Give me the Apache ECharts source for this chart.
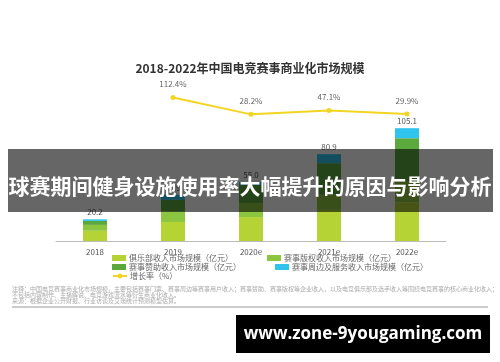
<!DOCTYPE html>
<html>
<head>
<meta charset="utf-8">
<script src="https://cdn.jsdelivr.net/npm/echarts@6/dist/echarts.min.js"></script>
<style>
html,body{margin:0;padding:0;background:#fff;}
#c{width:500px;height:362px;}
</style>
</head>
<body>
<div id="c"></div>
<script>
var categories = ['2018', '2019', '2020e', '2021e', '2022e'];
var clubRevenue = [9.5, 17.7, 22.3, 29.0, 36.0];
var copyrightRevenue = [5.5, 10.0, 13.0, 14.0, 20.0];
var sponsorRevenue = [3.7, 10.6, 16.9, 29.5, 39.8];
var peripheralRevenue = [1.5, 4.6, 2.8, 8.4, 9.3];
var totals = [20.2, 42.9, 55.0, 80.9, 105.1];
var growthRate = ['-', 112.4, 28.2, 47.1, 29.9];

var seriesNames = [
  '俱乐部收入市场规模（亿元）',
  '赛事版权收入市场规模（亿元）',
  '赛事赞助收入市场规模（亿元）',
  '赛事周边及服务收入市场规模（亿元）',
  '增长率（%）'
];
var colors = ['#b5d334', '#8cc640', '#5ba83c', '#2ec4ec', '#f2d523'];
var FONT = '"Noto Sans CJK SC", "Noto Sans", sans-serif';

var chart = echarts.init(document.getElementById('c'), null, {renderer: 'canvas'});

function barSeries(i, data, extra) {
  var s = {
    name: seriesNames[i],
    type: 'bar',
    stack: 'total',
    barWidth: 24,
    data: data,
    itemStyle: {color: colors[i]},
    emphasis: {disabled: true}
  };
  if (extra) { for (var k in extra) s[k] = extra[k]; }
  return s;
}

var legendCommon = {
  itemWidth: 14,
  itemHeight: 6,
  itemGap: 34,
  textStyle: {fontSize: 8, color: '#666', fontFamily: FONT, padding: [0, 0, 0, -2]},
  padding: 0
};

function legend(top, names) {
  var l = {left: 112, top: top, data: names};
  for (var k in legendCommon) l[k] = legendCommon[k];
  return l;
}

var option = {
  backgroundColor: '#ffffff',
  animation: false,
  title: {
    text: '2018-2022年中国电竞赛事商业化市场规模',
    left: 'center',
    top: 57,
    textStyle: {fontSize: 12, fontWeight: 'bold', color: '#333', fontFamily: FONT}
  },
  legend: [
    legend(254, [{name: seriesNames[0], icon: 'rect'}, {name: seriesNames[1], icon: 'rect'}]),
    legend(263, [{name: seriesNames[2], icon: 'rect'}, {name: seriesNames[3], icon: 'rect'}]),
    legend(272, [{name: seriesNames[4]}])
  ],
  grid: {left: 56, right: 54, top: 80, bottom: 121, containLabel: false},
  xAxis: {
    type: 'category',
    data: categories,
    axisLine: {lineStyle: {color: '#bbb', width: 1}},
    axisTick: {show: false},
    axisLabel: {fontSize: 8, color: '#555', margin: 7, fontFamily: FONT}
  },
  yAxis: [
    {type: 'value', min: 0, max: 150, show: false},
    {type: 'value', min: -605, max: 200, show: false}
  ],
  series: [
    barSeries(0, clubRevenue),
    barSeries(1, copyrightRevenue),
    barSeries(2, sponsorRevenue),
    barSeries(3, peripheralRevenue, {
      label: {
        show: true,
        position: 'top',
        distance: 3,
        fontSize: 8,
        color: '#555',
        fontFamily: FONT,
        formatter: function (p) { return totals[p.dataIndex].toFixed(1); }
      }
    }),
    {
      name: seriesNames[4],
      type: 'line',
      yAxisIndex: 1,
      data: growthRate,
      symbol: 'circle',
      symbolSize: 5,
      lineStyle: {color: colors[4], width: 2},
      itemStyle: {color: colors[4]},
      label: {
        show: true,
        position: 'top',
        distance: 7,
        fontSize: 8,
        color: '#666',
        fontFamily: FONT,
        formatter: function (p) { return p.value.toFixed(1) + '%'; }
      },
      emphasis: {disabled: true}
    }
  ],
  graphic: [
    {type: 'text', left: 12, top: 286, z: 50,
     style: {text: '注释：中国电竞赛事商业化市场规模，主要包括赛事门票、赛事周边等赛事用户收入；赛事赞助、赛事版权等企业收入，以及电竞俱乐部及选手收入等围绕电竞赛事的核心商业化收入；',
             fontSize: 6, fill: '#aaa', fontFamily: FONT}},
    {type: 'text', left: 12, top: 292, z: 50,
     style: {text: '不包括内容制作、主播解说、电竞游戏流水等衍生商业化收入。', fontSize: 6, fill: '#aaa', fontFamily: FONT}},
    {type: 'text', left: 12, top: 298, z: 50,
     style: {text: '来源：根据企业公开财报、行业访谈及艾瑞统计预测模型估算。', fontSize: 6, fill: '#aaa', fontFamily: FONT}},
    {type: 'line', z: 50, shape: {x1: 12, y1: 307, x2: 488, y2: 307}, style: {stroke: '#999', lineWidth: 1}},
    {type: 'rect', z: 100, shape: {x: 8, y: 149, width: 485, height: 63}, style: {fill: 'rgba(0,0,0,0.6)'}},
    {type: 'text', z: 101, x: 250, y: 186,
     style: {text: '球赛期间健身设施使用率大幅提升的原因与影响分析', fontSize: 21, fontWeight: 'bold',
             fill: '#fff', fontFamily: FONT, textAlign: 'center', textVerticalAlign: 'middle'}},
    {type: 'rect', z: 100, shape: {x: 236, y: 315, width: 254, height: 38}, style: {fill: '#000'}},
    {type: 'text', z: 101, x: 363, y: 334,
     style: {text: 'www.zone-9yougaming.com', fontSize: 17, fontWeight: 'bold',
             fill: '#fff', fontFamily: '"Open Sans", sans-serif', textAlign: 'center', textVerticalAlign: 'middle'}}
  ]
};
chart.setOption(option);
</script>
</body>
</html>
